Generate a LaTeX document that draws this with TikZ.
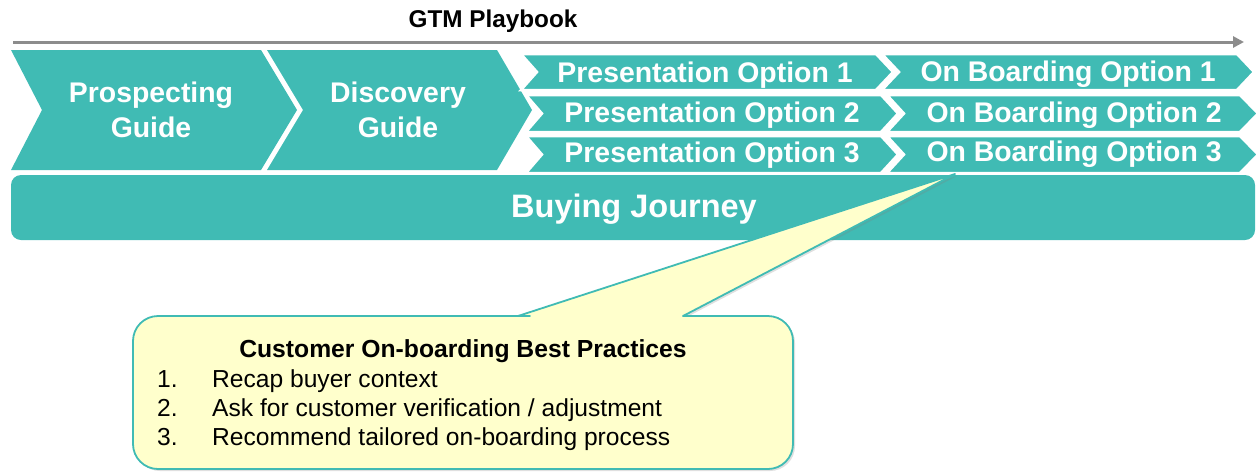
\documentclass[tikz,border=0pt]{standalone}
\usepackage{fontspec}
\setmainfont{Liberation Sans}
\usetikzlibrary{shadows,arrows.meta}
\definecolor{tealc}{RGB}{64,187,180}
\definecolor{callfill}{RGB}{255,255,204}
\definecolor{arrgray}{RGB}{140,140,140}
\tikzset{
  bigchev/.style={fill=tealc, draw=none},
  thinchev/.style={fill=tealc, draw=white, line width=2.5pt, line join=miter},
  chevtext/.style={text=white, font=\bfseries\fontsize{28.4}{30}\selectfont, inner sep=0pt, anchor=base},
  bartext/.style={text=white, font=\bfseries\fontsize{32.5}{34}\selectfont, inner sep=0pt, anchor=base},
  titletext/.style={text=black, font=\bfseries\fontsize{24.3}{26}\selectfont, inner sep=0pt, anchor=base},
  calltitle/.style={text=black, font=\bfseries\fontsize{24.7}{28}\selectfont, inner sep=0pt, anchor=base},
  callitem/.style={text=black, font=\fontsize{24.6}{28}\selectfont, inner sep=0pt, anchor=base west},
  callout/.style={fill=callfill, draw=tealc, line width=1.8pt, line join=round,
    drop shadow={opacity=0.25, shadow xshift=2pt, shadow yshift=-2pt}},
}
\begin{document}
\begin{tikzpicture}[x=1pt,y=-1pt]
\useasboundingbox (0,0) rectangle (1257,472);
% timeline arrow
\node[titletext] (gtm) at (493,27.5) {GTM Playbook};
\coordinate (arrS) at (13,42);
\coordinate (arrE) at (1244,42);
\draw[arrgray, line width=3pt, -{Triangle[length=11pt,width=11pt]}] (arrS) -- (arrE);
% big chevrons
\draw[bigchev] (11,50) -- (261,50) -- (297,110) -- (261,170) -- (11,170) -- (42,110) -- cycle;
\draw[bigchev] (267,50) -- (497,50) -- (532,110) -- (497,170) -- (267,170) -- (303,110) -- cycle;
% presentation chevrons
\draw[thinchev] (521,54) -- (876,54) -- (893,72) -- (876,90) -- (521,90) -- (537,72) -- cycle;
\draw[thinchev] (526,95) -- (881,95) -- (898,113.5) -- (881,132) -- (526,132) -- (542,113.5) -- cycle;
\draw[thinchev] (526,136) -- (881,136) -- (898,154.5) -- (881,173) -- (526,173) -- (542,154.5) -- cycle;
% on boarding chevrons
\draw[thinchev] (882,54) -- (1237,54) -- (1254,72) -- (1237,90) -- (882,90) -- (899,72) -- cycle;
\draw[thinchev] (887,95) -- (1240,95) -- (1258,113.5) -- (1240,132) -- (887,132) -- (904,113.5) -- cycle;
\draw[thinchev] (887,136) -- (1240,136) -- (1258,154.5) -- (1240,173) -- (887,173) -- (904,154.5) -- cycle;
% chevron texts
\node[chevtext] (pro1) at (151,102) {Prospecting};
\node[chevtext] (pro2) at (151,137) {Guide};
\node[chevtext] (dis1) at (398,102) {Discovery};
\node[chevtext] (dis2) at (398,137) {Guide};
\node[chevtext] (po1) at (705,82.5) {Presentation Option 1};
\node[chevtext] (po2) at (712,122) {Presentation Option 2};
\node[chevtext] (po3) at (712,162) {Presentation Option 3};
\node[chevtext] (ob1) at (1068,81) {On Boarding Option 1};
\node[chevtext] (ob2) at (1074,122) {On Boarding Option 2};
\node[chevtext] (ob3) at (1074,161) {On Boarding Option 3};
% buying journey bar
\draw[fill=tealc, draw=none, rounded corners=10pt] (11,175) rectangle (1255,240);
\node[bartext] (bj) at (634,217) {Buying Journey};
% callout
\coordinate (tip) at (955,174);
\draw[callout] (518,316) -- (tip) -- (683,316) -- (690,316) [rounded corners=25pt] -- (793,316) -- (793,469) -- (133,469) -- (133,316) -- (505,316) [sharp corners] -- cycle;
\node[calltitle] (ct) at (463,357) {Customer On-boarding Best Practices};
\node[callitem] (n1) at (157,387) {1.};
\node[callitem] (t1) at (212,387) {Recap buyer context};
\node[callitem] (n2) at (157,416) {2.};
\node[callitem] (t2) at (212,416) {Ask for customer verification / adjustment};
\node[callitem] (n3) at (157,445) {3.};
\node[callitem] (t3) at (212,445) {Recommend tailored on-boarding process};
\end{tikzpicture}
\end{document}
